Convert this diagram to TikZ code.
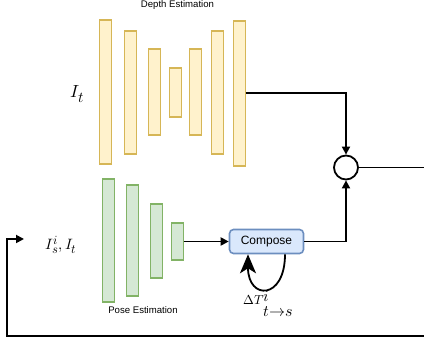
\documentclass[tikz,border=0pt]{standalone}
\usepackage{fontspec}
\usepackage{unicode-math}
\setmathfont{Latin Modern Math}
\setsansfont{Liberation Sans}
\DeclareMathSizes{15}{15}{12.5}{10}
\DeclareMathSizes{17.5}{17.5}{15}{12}
\usetikzlibrary{arrows.meta,calc}
\definecolor{yfill}{HTML}{FFF2CC}
\definecolor{ydraw}{HTML}{D6B656}
\definecolor{gfill}{HTML}{D5E8D4}
\definecolor{gdraw}{HTML}{82B366}
\definecolor{bfill}{HTML}{DAE8FC}
\definecolor{bdraw}{HTML}{6C8EBF}
\begin{document}
\begin{tikzpicture}[x=1pt,y=-1pt,
  ybar/.style={draw=ydraw,fill=yfill,line width=1.6pt,minimum width=12pt,inner sep=0pt,outer sep=0pt},
  gbar/.style={draw=gdraw,fill=gfill,line width=1.6pt,minimum width=12pt,inner sep=0pt,outer sep=0pt},
  conn/.style={line width=1.8pt,-{Triangle[length=8pt,width=8pt]}},
  plainline/.style={line width=1.8pt},
  smalltxt/.style={font=\sffamily\fontsize{9.6}{11}\selectfont,inner sep=0pt},
  mathlbl/.style={inner sep=0pt,anchor=base west}]
\useasboundingbox (0,0) rectangle (424,344);
% depth network
\node[ybar,minimum height=144pt] (d1) at (105.5,92) {};
\node[ybar,minimum height=123pt] (d2) at (130.5,92.5) {};
\node[ybar,minimum height=86pt] (d3) at (154.5,92) {};
\node[ybar,minimum height=49pt] (d4) at (175.5,92.5) {};
\node[ybar,minimum height=86pt] (d5) at (195.5,92) {};
\node[ybar,minimum height=123pt] (d6) at (217.5,92.5) {};
\node[ybar,minimum height=145pt] (d7) at (239.5,93.5) {};
% pose network
\node[gbar,minimum height=123pt] (p1) at (108.5,240.5) {};
\node[gbar,minimum height=111pt] (p2) at (132.5,240.5) {};
\node[gbar,minimum height=74pt] (p3) at (156.5,241) {};
\node[gbar,minimum height=37pt] (p4) at (177.5,241.5) {};
% labels
\node[smalltxt] (dlab) at (177.5,5) {Depth Estimation};
\node[smalltxt] (plab) at (143,310) {Pose Estimation};
\node[mathlbl,font=\fontsize{17.5}{18}\selectfont] (it) at (70.5,98) {$I_t$};
\node[mathlbl,font=\fontsize{15}{15}\selectfont] (inp) at (45.5,250) {$I^i_s,I_t$};
% compose
\node[draw=bdraw,fill=bfill,line width=1.6pt,rounded corners=4pt,minimum width=74pt,minimum height=24pt,inner sep=0pt,font=\sffamily\fontsize{12}{14}\selectfont] (comp) at (266.5,241.5) {Compose};
% combine circle
\node[draw,circle,line width=1.8pt,minimum size=24pt,inner sep=0pt] (circ) at (346,167.5) {};
% connectors
\draw[conn] (d7.east |- 0,93) -| (circ.north);
\draw[conn] (p4.east) -- (comp.west);
\draw[conn] (comp.east) -| (circ.south);
\coordinate (outr) at (424,167.5);
\draw[plainline] (circ.east) -- (outr);
\coordinate (fbstart) at (424,336);
\coordinate (fbend) at (24,239);
\draw[conn] (fbstart) -- (7,336) -- (7,239) -- (fbend);
% loop
\coordinate (lstart) at ($(comp.south)+(18.5,0)$);
\coordinate (lend) at ($(comp.south)+(-18.5,0)$);
\draw[line width=1.8pt,-{Stealth[length=19pt,width=16pt,inset=5pt]}] (lstart) .. controls +(0,46) and +(0,46) .. (lend);
\node[mathlbl] (dlt) at (243,305) {\fontsize{13}{13}\selectfont$\Delta T$\rlap{\raisebox{3pt}{\fontsize{16}{16}\selectfont$i$}}\raisebox{-12pt}{\fontsize{16}{16}\selectfont$t{\to}s$}};
\end{tikzpicture}
\end{document}
